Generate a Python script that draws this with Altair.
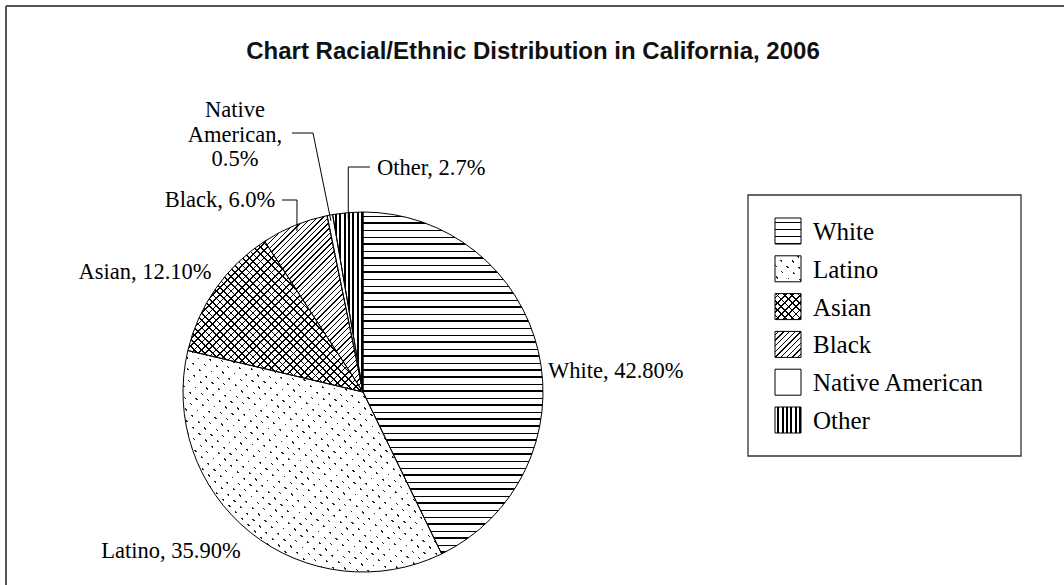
import math
import altair as alt
import pandas as pd

# ---------------- data ----------------
CATEGORIES = ["White", "Latino", "Asian", "Black", "Native American", "Other"]
SHARES = [42.8, 35.9, 12.1, 6.0, 0.5, 2.7]
PIE_LABELS = ["White, 42.80%", "Latino, 35.90%", "Asian, 12.10%", "Black, 6.0%",
              ["Native", "American,", "0.5%"], "Other, 2.7%"]
TITLE = "Chart Racial/Ethnic Distribution in California, 2006"

# ---------------- layout / style ----------------
W, H = 1064, 585
CX, CY, R = 363, 392, 180
SERIF = "Liberation Serif"
SANS = "Liberation Sans"
LABEL_SIZE = 22.5
LEGEND_SIZE = 25
SYM = 26  # legend symbol side (px)

# label anchor (x, y, align) in pixels
LABEL_POS = {
    "White": (548, 371, "left"),
    "Latino": (171, 551, "center"),
    "Asian": (145, 272, "center"),
    "Black": (220, 200, "center"),
    "Native American": (235, 110, "center"),
    "Other": (377, 168, "left"),
}
# leader elbows: points from label side toward the slice
LEADER_ELBOWS = {
    "Black": [(282, 200), (297, 200)],
    "Native American": [(292, 133), (313, 133)],
    "Other": [(370, 167), None],  # None -> vertical above the rim point
}

df = pd.DataFrame({"cat": CATEGORIES, "share": SHARES})

# cumulative angles (from the data) -> used for pattern geometry / leader ends
TOTAL = sum(SHARES)
cum = []
acc = 0.0
for s in SHARES:
    cum.append((acc, acc + s))
    acc += s
ANG = {c: (2 * math.pi * a / TOTAL, 2 * math.pi * b / TOTAL) for c, (a, b) in zip(CATEGORIES, cum)}


def arc_bbox(a0, a1, r):
    pts = [(0.0, 0.0), (r * math.sin(a0), -r * math.cos(a0)), (r * math.sin(a1), -r * math.cos(a1))]
    for k in range(5):
        a = k * math.pi / 2
        if a0 - 1e-9 <= a <= a1 + 1e-9:
            pts.append((r * math.sin(a), -r * math.cos(a)))
    xs = [p[0] for p in pts]
    ys = [p[1] for p in pts]
    return max(xs) - min(xs), max(ys) - min(ys)


def stripes(bw, bh, normal_deg, period, thick, ink="black", paper="white", offset=None):
    t = math.radians(normal_deg)
    nx, ny = math.cos(t), math.sin(t)
    if abs(nx) < 1e-9:
        nx = 0.0
    if abs(ny) < 1e-9:
        ny = 0.0
    D = abs(nx) * bw + abs(ny) * bh
    u1 = 0.0 if nx >= 0 else 1.0
    v1 = 0.0 if ny >= 0 else 1.0
    denom = nx * nx * bw * bw + ny * ny * bh * bh
    s = D / denom
    x2 = u1 + nx * bw * s
    y2 = v1 + ny * bh * s
    off = period / 2 if offset is None else offset
    stops = [{"offset": 0, "color": paper}]
    k = 0
    while True:
        a = (k * period + off) / D
        if a >= 1:
            break
        b = min((k * period + off + thick) / D, 1.0)
        a = round(a, 5)
        b = round(b, 5)
        stops += [{"offset": a, "color": paper}, {"offset": a, "color": ink},
                  {"offset": b, "color": ink}, {"offset": b, "color": paper}]
        k += 1
    stops.append({"offset": 1, "color": paper})
    return {"gradient": "linear", "x1": u1, "y1": v1, "x2": round(x2, 5), "y2": round(y2, 5),
            "stops": stops}


CLEAR_W = "rgba(255,255,255,0)"
CLEAR_K = "rgba(0,0,0,0)"


def fills_for(cat, bw, bh):
    """list of gradient fills (drawn bottom to top) for a category pattern"""
    if cat == "White":
        return [stripes(bw, bh, 90, 7.0, 1.1)]
    if cat == "Latino":
        return [stripes(bw, bh, -45, 7.5, 1.2, ink="#222"),
                stripes(bw, bh, 45, 9.0, 6.6, ink="white", paper=CLEAR_W, offset=0)]
    if cat == "Asian":
        return [stripes(bw, bh, 45, 5.2, 1.2),
                stripes(bw, bh, -45, 5.2, 1.2, paper=CLEAR_K)]
    if cat == "Black":
        return [stripes(bw, bh, 45, 4.0, 1.0)]
    if cat == "Other":
        return [stripes(bw, bh, 0, 4.4, 2.0)]
    return ["white"]


# ---------------- pie ----------------
pie_base = alt.Chart(df).transform_window(
    cum="sum(share)", frame=[None, 0]
).transform_calculate(start="datum.cum - datum.share")

theta_enc = dict(
    theta=alt.Theta("start:Q", scale=alt.Scale(domain=[0, TOTAL])),
    theta2=alt.Theta2("cum:Q"),
    x=alt.value(CX),
    y=alt.value(CY),
)

layers = []

# frame (top and left edges of the original border)
layers.append(alt.Chart(df).mark_rule(color="#555", strokeWidth=2).encode(
    x=alt.value(6), y=alt.value(6), y2=alt.value(H)))
layers.append(alt.Chart(df).mark_rule(color="#555", strokeWidth=2).encode(
    x=alt.value(6), x2=alt.value(W), y=alt.value(6)))

for cat in CATEGORIES:
    a0, a1 = ANG[cat]
    bw, bh = arc_bbox(a0, a1, R)
    for f in fills_for(cat, bw, bh):
        layers.append(
            pie_base.transform_filter(alt.datum.cat == cat)
            .mark_arc(radius=R, fill=f, strokeWidth=0)
            .encode(**theta_enc)
        )

# outlines
layers.append(pie_base.mark_arc(radius=R, fillOpacity=0, stroke="black", strokeWidth=1)
              .encode(**theta_enc))

# leader lines: from label elbow to the rim at the slice's middle angle
seg_rows = []
for cat, elbows in LEADER_ELBOWS.items():
    a0, a1 = ANG[cat]
    am = (a0 + a1) / 2
    rim = (CX + (R - 6) * math.sin(am), CY - (R - 6) * math.cos(am))
    p0, p1 = elbows
    if p1 is None:
        p1 = (rim[0], p0[1])
    seg_rows.append({"x": p0[0], "y": p0[1], "x2": p1[0], "y2": p1[1]})
    seg_rows.append({"x": p1[0], "y": p1[1], "x2": rim[0], "y2": rim[1]})
leaders = pd.DataFrame(seg_rows)
layers.append(alt.Chart(leaders).mark_rule(color="black", strokeWidth=1).encode(
    x=alt.X("x:Q", scale=None), y=alt.Y("y:Q", scale=None),
    x2="x2:Q", y2="y2:Q"))

# pie labels
for cat, txt in zip(CATEGORIES, PIE_LABELS):
    x, y, al = LABEL_POS[cat]
    if isinstance(txt, list):
        layers.append(alt.Chart(df).transform_filter(alt.datum.cat == cat).mark_text(
            text=txt, font=SERIF, fontSize=LABEL_SIZE, align=al, baseline="alphabetic",
            lineHeight=24.5, color="black").encode(x=alt.value(x), y=alt.value(y + 7)))
    else:
        layers.append(alt.Chart(df).transform_filter(alt.datum.cat == cat).mark_text(
            text=txt, font=SERIF, fontSize=LABEL_SIZE, align=al, baseline="middle",
            color="black").encode(x=alt.value(x), y=alt.value(y)))

# title
layers.append(alt.Chart(df).transform_filter(alt.datum.cat == "White").mark_text(
    text=TITLE, font=SANS, fontSize=24, fontWeight="bold", align="center", baseline="middle",
    color="#111").encode(x=alt.value(533), y=alt.value(52)))

# legend box
layers.append(alt.Chart(df).transform_filter(alt.datum.cat == "White").mark_rect(
    fill="white", stroke="#333", strokeWidth=1.3).encode(
    x=alt.value(748), x2=alt.value(1021), y=alt.value(195), y2=alt.value(456)))

legend_y = alt.Y("cat:N", scale=alt.Scale(type="point", domain=CATEGORIES, range=[231, 420], padding=0),
                 axis=None)
for cat in CATEGORIES:
    fl = fills_for(cat, SYM, SYM)
    for i, f in enumerate(fl):
        last = i == len(fl) - 1
        layers.append(
            alt.Chart(df).transform_filter(alt.datum.cat == cat)
            .mark_square(size=SYM * SYM, fill=f, opacity=1,
                         stroke="black" if last else "transparent", strokeWidth=1)
            .encode(x=alt.value(788), y=legend_y)
        )
layers.append(alt.Chart(df).mark_text(font=SERIF, fontSize=LEGEND_SIZE, align="left",
                                      baseline="middle", color="black", dy=1)
              .encode(x=alt.value(813), y=legend_y, text="cat:N"))

chart = alt.layer(*layers).properties(
    width=W, height=H, padding=0, autosize="none", background="white"
).configure_view(stroke=None)

chart.save("out.html", embed_options={"renderer": "svg", "actions": False})
